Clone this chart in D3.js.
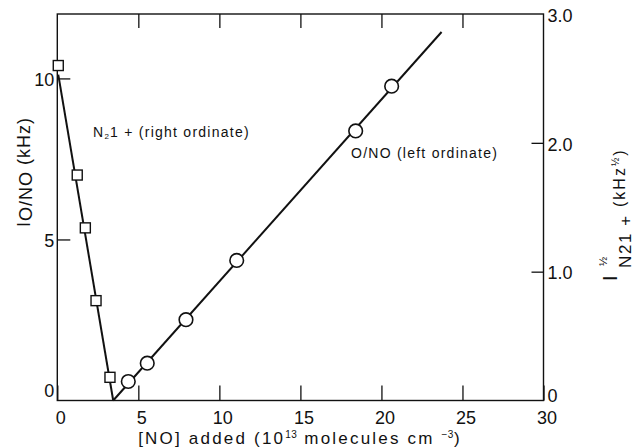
<!DOCTYPE html>
<html>
<head>
<meta charset="utf-8">
<script src="https://cdn.jsdelivr.net/npm/d3@7"></script>
<style>
  body { margin: 0; background: #fff; }
  svg { display: block; font-family: "Liberation Sans", Arial, sans-serif; }
  .tick-label { font-size: 18px; fill: #111; }
  .note { font-size: 14px; fill: #111; letter-spacing: 1.25px; }
</style>
</head>
<body>
<div id="chart"></div>
<script>
// N2 1+ points (right ordinate, kHz^1/2)
var n2X = [0.06, 1.23, 1.73, 2.39, 3.25];
var n2Y = [2.60, 1.75, 1.34, 0.775, 0.18];
// O/NO points (left ordinate, kHz)
var oX = [4.38, 5.55, 7.94, 11.07, 18.41, 20.63];
var oY = [0.59, 1.16, 2.51, 4.35, 8.37, 9.76];
// fitted lines
var n2FitX = [0.06, 3.45];
var n2FitY = [2.53, 0];
var oFitX = [3.45, 23.71];
var oFitY = [0, 11.44];
// tick values
var xTicks = [0, 5, 10, 15, 20, 25, 30];
var yLeftTicks = [0, 5, 10];
var yRightTicks = [0, 1, 2, 3];
var yRightLabels = ["0", "1.0", "2.0", "3.0"];

var svgWidth = 636;
var svgHeight = 448;
var margin = { top: 14, right: 92.5, bottom: 47.5, left: 57.3 };
var width = svgWidth - margin.left - margin.right;
var height = svgHeight - margin.top - margin.bottom;

var svg = d3.select("#chart")
    .append("svg")
    .attr("width", svgWidth)
    .attr("height", svgHeight);

var g = svg.append("g")
    .attr("transform", `translate(${margin.left}, ${margin.top})`);

var x = d3.scaleLinear().domain([0, 30]).range([0, width]);
var yL = d3.scaleLinear().domain([0, 12]).range([height, 0]);
var yR = d3.scaleLinear().domain([0, 3]).range([height, 0]);

// frame
g.append("rect")
    .attr("width", width)
    .attr("height", height)
    .attr("fill", "none")
    .attr("stroke", "#111")
    .attr("stroke-width", 1.4);

// bottom axis (ticks pointing in)
var bottomAxis = g.append("g")
    .attr("transform", `translate(0, ${height})`)
    .call(d3.axisBottom(x).tickValues(xTicks).tickSizeInner(-15).tickSizeOuter(0).tickPadding(11));
bottomAxis.select(".domain").remove();
bottomAxis.selectAll("text").attr("class", "tick-label").attr("font-size", null).attr("font-family", null).attr("dx", 3);

// top axis ticks
var topAxis = g.append("g")
    .call(d3.axisTop(x).tickValues(xTicks.slice(1, -1)).tickSizeInner(-14).tickSizeOuter(0).tickFormat(""));
topAxis.select(".domain").remove();

// left axis
var leftAxis = g.append("g")
    .call(d3.axisLeft(yL).tickValues(yLeftTicks).tickSizeInner(-13).tickSizeOuter(0).tickPadding(3));
leftAxis.select(".domain").remove();
leftAxis.selectAll("text").attr("class", "tick-label").attr("font-size", null).attr("font-family", null)
    .attr("dy", d => d === 0 ? "-0.2em" : "0.4em");
leftAxis.selectAll("line").filter(d => d === 0).remove();

// right axis
var rightAxis = g.append("g")
    .attr("transform", `translate(${width}, 0)`)
    .call(d3.axisRight(yR).tickValues(yRightTicks).tickSizeInner(-12).tickSizeOuter(0).tickPadding(4)
        .tickFormat((d, i) => yRightLabels[i]));
rightAxis.select(".domain").remove();
rightAxis.selectAll("text").attr("class", "tick-label").attr("font-size", null).attr("font-family", null)
    .attr("dy", d => d === 0 ? "0.05em" : "0.4em");
rightAxis.selectAll("line").filter(d => d === 0 || d === 3).remove();

g.selectAll(".tick line").attr("stroke", "#111").attr("stroke-width", 1.3);

// fit lines
var lineL = d3.line().x(d => x(d[0])).y(d => yL(d[1]));
var lineR = d3.line().x(d => x(d[0])).y(d => yR(d[1]));

g.append("path")
    .datum(d3.zip(n2FitX, n2FitY))
    .attr("d", lineR)
    .attr("fill", "none")
    .attr("stroke", "#111")
    .attr("stroke-width", 2);

g.append("path")
    .datum(d3.zip(oFitX, oFitY))
    .attr("d", lineL)
    .attr("fill", "none")
    .attr("stroke", "#111")
    .attr("stroke-width", 2);

// squares
var sq = 10;
g.selectAll("rect.sq")
    .data(d3.zip(n2X, n2Y))
    .enter()
    .append("rect")
    .attr("class", "sq")
    .attr("x", d => x(d[0]) - sq / 2)
    .attr("y", d => yR(d[1]) - sq / 2)
    .attr("width", sq)
    .attr("height", sq)
    .attr("fill", "#fff")
    .attr("stroke", "#111")
    .attr("stroke-width", 1.4);

// circles
g.selectAll("circle")
    .data(d3.zip(oX, oY))
    .enter()
    .append("circle")
    .attr("cx", d => x(d[0]))
    .attr("cy", d => yL(d[1]))
    .attr("r", 6.8)
    .attr("fill", "#fff")
    .attr("stroke", "#111")
    .attr("stroke-width", 1.6);

// in-plot notes
var n2Note = svg.append("text").attr("class", "note").attr("x", 93).attr("y", 137);
n2Note.append("tspan").text("N");
n2Note.append("tspan").attr("font-size", "8px").attr("dy", 2).text("2");
n2Note.append("tspan").attr("dy", -2).text("1 +  (right ordinate)");

svg.append("text").attr("class", "note").attr("x", 351).attr("y", 158).text("O/NO (left ordinate)");

// x axis title
var xTitle = svg.append("text")
    .attr("x", 300).attr("y", 444)
    .attr("text-anchor", "middle")
    .attr("font-size", "17px")
    .attr("letter-spacing", "2.2px")
    .attr("fill", "#111");
xTitle.append("tspan").text("[NO] added (10");
xTitle.append("tspan").attr("font-size", "10px").attr("letter-spacing", "0.5px").attr("dy", -6).text("13");
xTitle.append("tspan").attr("dy", 6).text(" molecules cm ");
xTitle.append("tspan").attr("font-size", "10px").attr("letter-spacing", "0.5px").attr("dy", -6).text("\u22123");
xTitle.append("tspan").attr("dy", 6).text(")");

// left y title
var yTitle = svg.append("text")
    .attr("transform", "translate(30, 172) rotate(-90)")
    .attr("text-anchor", "middle")
    .attr("font-size", "18px")
    .attr("letter-spacing", "1px")
    .attr("fill", "#111");
yTitle.append("tspan").text("I");
yTitle.append("tspan").attr("dy", 2).text("O/NO");
yTitle.append("tspan").attr("dy", -2).text(" (kHz)");

// right y title, pieces placed by screen position (sx = baseline x, sy = start y)
function vText(str, sx, sy, size, spacing) {
    return svg.append("text")
        .attr("transform", `translate(${sx}, ${sy}) rotate(-90)`)
        .attr("font-size", size + "px")
        .attr("letter-spacing", spacing + "px")
        .attr("fill", "#111")
        .text(str);
}
vText("I", 617, 281, 20, 0);
vText("\u00bd", 607, 266, 11, 0);
vText("N21 +", 631, 268, 17, 1.6);
var kHz = vText("(kHz", 625, 207, 16, 2);
kHz.append("tspan").attr("font-size", "10px").attr("dy", -6).text("\u00bd");
kHz.append("tspan").attr("dy", 6).text(")");
</script>
</body>
</html>
